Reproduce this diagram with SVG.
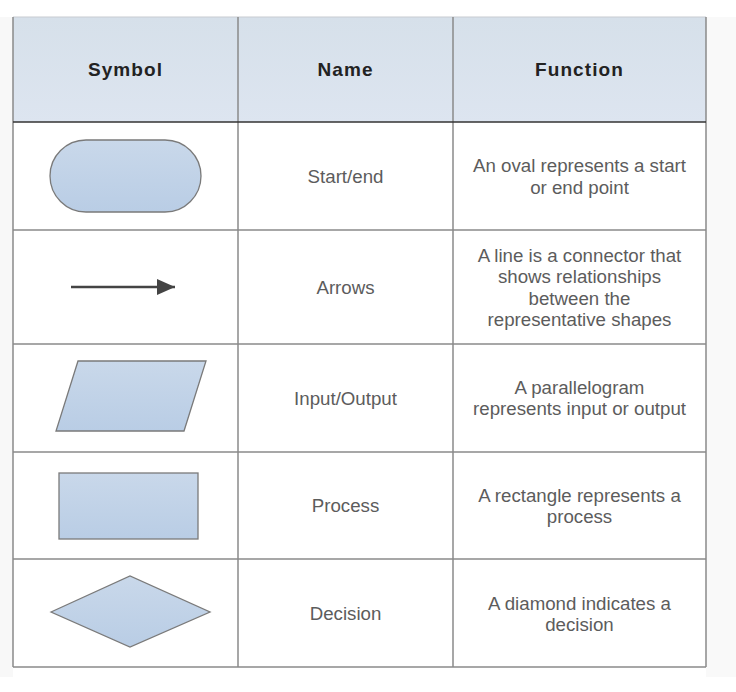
<svg xmlns="http://www.w3.org/2000/svg" width="736" height="692" viewBox="0 0 736 692">
<defs>
<linearGradient id="shapeFill" x1="0" y1="0" x2="0" y2="1">
<stop offset="0" stop-color="#c9d8ea"/>
<stop offset="1" stop-color="#b9cde5"/>
</linearGradient>
<linearGradient id="hdrFill" x1="0" y1="0" x2="0" y2="1">
<stop offset="0" stop-color="#d6e0ea"/>
<stop offset="1" stop-color="#dde5f0"/>
</linearGradient>
<marker id="arrowHead" markerWidth="8" markerHeight="7" refX="7.2" refY="3.2" orient="auto" markerUnits="strokeWidth">
<path d="M0,0 L7.2,3.2 L0,6.4 Z" fill="#444444"/>
</marker>
<style>
.hdr{font-family:"Liberation Sans",Arial,sans-serif;font-size:19px;font-weight:bold;fill:#222222;text-anchor:middle;letter-spacing:1.1px}
.txt{font-family:"Liberation Sans",Arial,sans-serif;font-size:18.7px;fill:#5c5c5c;text-anchor:middle}
.grid{stroke:#8a8a8a;stroke-width:1.5;fill:none}
.shape{fill:url(#shapeFill);stroke:#7a7a7a;stroke-width:1.3}
</style>
</defs>
<rect x="0" y="0" width="736" height="692" fill="#ffffff"/>
<rect x="0" y="17" width="13" height="660" fill="#f8f8f8"/>
<rect x="706" y="17" width="30" height="660" fill="#f9f9f9"/>
<rect x="13" y="17" width="693" height="650" fill="#ffffff"/>

<g id="table">
<rect x="13" y="17" width="693" height="105" fill="url(#hdrFill)"/>
<line x1="13" y1="17" x2="706" y2="17" style="stroke:#c8ccd2;stroke-width:1.2"/>
<line class="grid" x1="13" y1="230" x2="706" y2="230"/>
<line class="grid" x1="13" y1="344" x2="706" y2="344"/>
<line class="grid" x1="13" y1="452" x2="706" y2="452"/>
<line class="grid" x1="13" y1="559" x2="706" y2="559"/>
<line class="grid" x1="13" y1="667" x2="706" y2="667"/>
<line class="grid" x1="13" y1="17" x2="13" y2="667"/>
<line class="grid" x1="238" y1="17" x2="238" y2="667"/>
<line class="grid" x1="453" y1="17" x2="453" y2="667"/>
<line class="grid" x1="706" y1="17" x2="706" y2="667"/>
<line x1="13" y1="122" x2="706" y2="122" stroke="#333333" stroke-width="1.6"/>
</g>

<g id="header">
<text class="hdr" x="125.5" y="76">Symbol</text>
<text class="hdr" x="345.5" y="76">Name</text>
<text class="hdr" x="579.5" y="76">Function</text>
</g>

<g id="row-start">
<rect class="shape" x="50" y="140" width="151" height="72" rx="36" ry="36"/>
<text class="txt" x="345.5" y="183">Start/end</text>
<text class="txt" x="579.5" y="172">An oval represents a start</text>
<text class="txt" x="579.5" y="193.5">or end point</text>
</g>

<g id="connectors">
<line x1="71" y1="287" x2="175" y2="287" stroke="#444444" stroke-width="2.5" marker-end="url(#arrowHead)"/>
</g>

<g id="row-arrows">
<text class="txt" x="345.5" y="294">Arrows</text>
<text class="txt" x="579.5" y="262">A line is a connector that</text>
<text class="txt" x="579.5" y="283.3">shows relationships</text>
<text class="txt" x="579.5" y="304.6">between the</text>
<text class="txt" x="579.5" y="326">representative shapes</text>
</g>

<g id="row-io">
<polygon class="shape" points="78,361 206,361 184,431 56,431"/>
<text class="txt" x="345.5" y="404.5">Input/Output</text>
<text class="txt" x="579.5" y="393.5">A parallelogram</text>
<text class="txt" x="579.5" y="415">represents input or output</text>
</g>

<g id="row-process">
<rect class="shape" x="59" y="473" width="139" height="66"/>
<text class="txt" x="345.5" y="512">Process</text>
<text class="txt" x="579.5" y="501.5">A rectangle represents a</text>
<text class="txt" x="579.5" y="523">process</text>
</g>

<g id="row-decision">
<polygon class="shape" points="51,612 130,576 210,612 130,647"/>
<text class="txt" x="345.5" y="620">Decision</text>
<text class="txt" x="579.5" y="609.5">A diamond indicates a</text>
<text class="txt" x="579.5" y="631">decision</text>
</g>
</svg>
